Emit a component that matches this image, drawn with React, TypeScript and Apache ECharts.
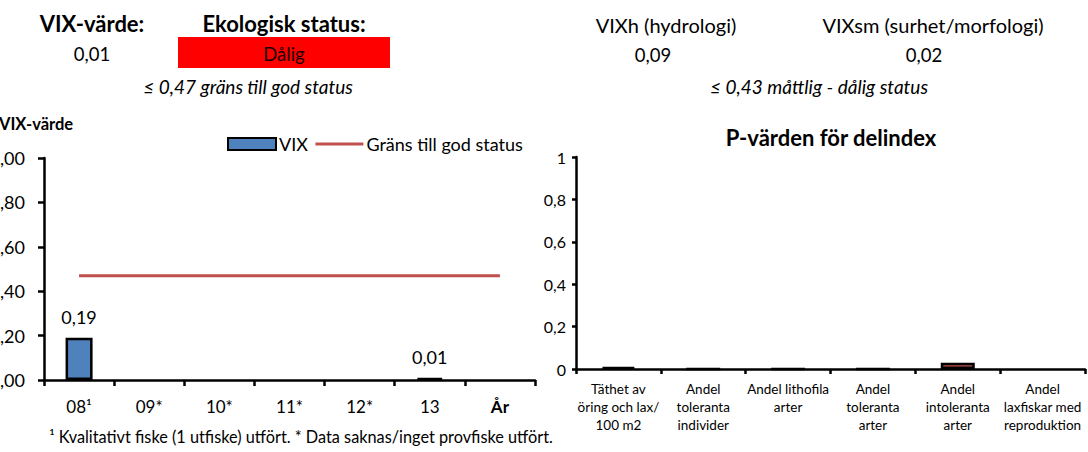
import React, { useEffect, useRef } from "react";
import * as echarts from "echarts";

const years = ["08¹", "09*", "10*", "11*", "12*", "13", "År"];
const vixValues: (number | null)[] = [0.19, null, null, null, null, 0.01, null];
const thresholdValues = [0.47, 0.47, 0.47, 0.47, 0.47, 0.47, 0.47];
const subIndexCategories = [
  "Täthet av\nöring och lax/\n100 m2",
  "Andel\ntoleranta\nindivider",
  "Andel lithofila\narter",
  "Andel\ntoleranta\narter",
  "Andel\nintoleranta\narter",
  "Andel\nlaxfiskar med\nreproduktion",
];
const pValues: (number | null)[] = [0.01, 0, 0, 0, 0.03, null];
const leftTicks = [0, 0.2, 0.4, 0.6, 0.8, 1];

const FONT = "Lato, 'Open Sans', sans-serif";

export default function App() {
  const ref = useRef<HTMLDivElement>(null);
  useEffect(() => {
    if (!ref.current) return;
    const chart = echarts.init(ref.current, undefined, { renderer: "svg" });
    const axisLine = { show: true, lineStyle: { color: "#000", width: 2.5 } };
    const txt = (text: string, x: number, y: number, size: number, extra: any = {}) => ({
      type: "text",
      x,
      y,
      style: {
        text,
        fontSize: size,
        fontFamily: FONT,
        fill: "#000",
        align: "center",
        verticalAlign: "middle",
        ...extra,
      },
    });
    chart.setOption({
      animation: false,
      textStyle: { fontFamily: FONT },
      graphic: [
        txt("VIX-värde:", 92, 23, 22, { fontWeight: "bold" }),
        txt("Ekologisk status:", 284, 23, 22, { fontWeight: "bold" }),
        txt("0,01", 92, 54, 18.5),
        {
          type: "rect",
          shape: { x: 178, y: 37, width: 212, height: 31 },
          style: { fill: "#FF0000" },
        },
        txt("Dålig", 284, 54, 18.5, { fill: "#1a0000" }),
        txt("≤ 0,47 gräns till god status", 248, 86, 19, { fontStyle: "italic" }),
        txt("VIXh (hydrologi)", 666, 25, 20),
        txt("VIXsm (surhet/morfologi)", 933, 25, 20),
        txt("0,09", 653, 55, 18.5),
        txt("0,02", 924, 55, 18.5),
        txt("≤ 0,43 måttlig - dålig status", 819, 86, 19, { fontStyle: "italic" }),
        txt("VIX-värde", -1, 124, 16.5, { fontWeight: "bold", align: "left" }),
        txt("P-värden för delindex", 831, 137, 22, { fontWeight: "bold" }),
        txt(
          "¹ Kvalitativt fiske (1 utfiske) utfört. * Data saknas/inget provfiske utfört.",
          301,
          436,
          16.3
        ),
      ],
      legend: {
        left: 222,
        top: 130,
        itemWidth: 48,
        itemHeight: 12,
        itemGap: 6,
        textStyle: { fontSize: 18, fontFamily: FONT, color: "#000", padding: [0, 0, 0, -2] },
        data: [
          { name: "VIX", icon: "rect" },
          {
            name: "Gräns till god status",
            itemStyle: { color: "rgba(0,0,0,0)", borderWidth: 0 },
            lineStyle: { color: "#C0504D", width: 3 },
          },
        ],
      },
      grid: [
        { left: 44, top: 158, width: 491, height: 222, outerBoundsMode: "none", containLabel: false },
        { left: 576, top: 157, width: 509, height: 212, outerBoundsMode: "none", containLabel: false },
      ],
      xAxis: [
        {
          type: "category",
          gridIndex: 0,
          data: years,
          axisLine,
          axisTick: { show: true, length: 6, lineStyle: { color: "#000", width: 2.5 } },
          axisLabel: {
            color: "#000",
            fontSize: 17,
            margin: 18,
            fontFamily: FONT,
            formatter: (v: string) => (v === "År" ? "{b|År}" : v),
            rich: { b: { fontWeight: "bold", fontSize: 17, fontFamily: FONT, color: "#000" } },
          },
        },
        {
          type: "category",
          gridIndex: 1,
          data: subIndexCategories,
          axisLine,
          axisTick: { show: true, length: 5, lineStyle: { color: "#000", width: 2.5 } },
          axisLabel: {
            color: "#000",
            fontSize: 13.5,
            lineHeight: 18,
            margin: 11,
            interval: 0,
            fontFamily: FONT,
          },
        },
      ],
      yAxis: [
        {
          type: "value",
          gridIndex: 0,
          min: leftTicks[0],
          max: leftTicks[leftTicks.length - 1],
          interval: 0.2,
          axisLine,
          axisTick: { show: true, length: 6, lineStyle: { color: "#000", width: 2.5 } },
          splitLine: { show: false },
          axisLabel: {
            color: "#000",
            fontSize: 18,
            margin: 19,
            fontFamily: FONT,
            formatter: (v: number) => v.toFixed(2).replace(".", ","),
          },
        },
        {
          type: "value",
          gridIndex: 1,
          min: 0,
          max: 1,
          interval: 0.2,
          axisLine,
          axisTick: { show: true, length: 4, lineStyle: { color: "#000", width: 2.5 } },
          splitLine: { show: false },
          axisLabel: {
            color: "#000",
            fontSize: 16,
            margin: 10,
            fontFamily: FONT,
            formatter: (v: number) => String(Math.round(v * 10) / 10).replace(".", ","),
          },
        },
      ],
      series: [
        {
          name: "VIX",
          type: "bar",
          xAxisIndex: 0,
          yAxisIndex: 0,
          data: vixValues,
          barWidth: 27,
          itemStyle: { color: "#4F81BD", borderColor: "#000", borderWidth: 2.5 },
          label: {
            show: true,
            position: "top",
            distance: 12,
            color: "#000",
            fontSize: 18,
            fontFamily: FONT,
            formatter: (p: any) => p.value.toFixed(2).replace(".", ","),
          },
          z: 2,
        },
        {
          name: "Gräns till god status",
          type: "line",
          xAxisIndex: 0,
          yAxisIndex: 0,
          data: thresholdValues,
          symbol: "none",
          lineStyle: { color: "#C0504D", width: 3 },
          itemStyle: { color: "#C0504D" },
          z: 3,
        },
        {
          name: "P",
          type: "bar",
          xAxisIndex: 1,
          yAxisIndex: 1,
          data: pValues,
          barWidth: 34,
          itemStyle: { color: "#C0504D", borderColor: "#000", borderWidth: 2.5 },
        },
      ],
    });
    return () => chart.dispose();
  }, []);
  return (
    <div
      ref={ref}
      style={{ position: "absolute", left: 0, top: 0, width: 1088, height: 452 }}
    />
  );
}
